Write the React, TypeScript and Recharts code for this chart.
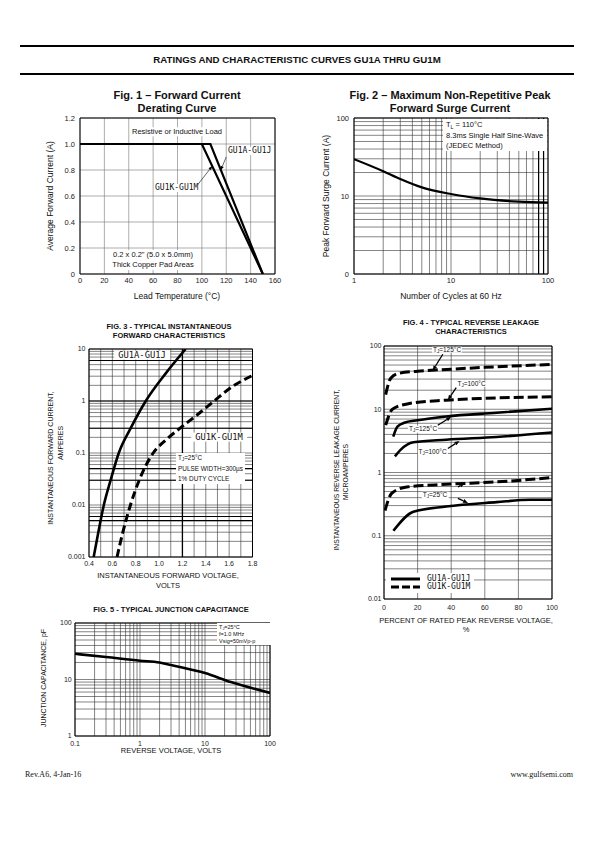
import React from 'react';
import {
  LineChart, Line, XAxis, YAxis, CartesianGrid, ReferenceLine, ReferenceArea, Legend,
} from 'recharts';

const SANS = '"Liberation Sans", Arial, sans-serif';
const MONO = '"DejaVu Sans Mono", "Liberation Mono", monospace';
const SERIF = '"Liberation Serif", "Times New Roman", serif';

// Fig. 1 - forward current derating
const fig1Temp = [0, 20, 40, 60, 80, 100, 120, 140, 160];
const fig1TempLabels = ['0', '20', '40', '60', '80', '100', '120', '140', '160'];
const fig1Amps = [0, 0.2, 0.4, 0.6, 0.8, 1.0, 1.2];
const fig1AmpLabels = ['0', '0.2', '0.4', '0.6', '0.8', '1.0', '1.2'];
const fig1TempAJ = [0, 107, 150];
const fig1CurrAJ = [1.0, 1.0, 0];
const fig1TempKM = [0, 100, 150];
const fig1CurrKM = [1.0, 1.0, 0];

// Fig. 2 - peak forward surge current
const fig2Cycles = [1, 2, 3, 5, 10, 20, 50, 100];
const fig2Surge = [29.7, 20.8, 16.5, 12.9, 10.6, 9.3, 8.45, 8.2];
const fig2XTicks = [1, 10, 100];
const fig2XLabels = ['1', '10', '100'];
const fig2YTicks = [1, 10, 100];
const fig2YLabels = ['0', '10', '100'];

// Fig. 3 - forward characteristics
const fig3VoltsAJ = [0.44, 0.48, 0.527, 0.585, 0.655, 0.757, 0.886, 1.057, 1.228];
const fig3AmpsAJ = [0.001, 0.003, 0.01, 0.03, 0.1, 0.3, 1.0, 3.4, 10];
const fig3VoltsKM = [0.64, 0.69, 0.755, 0.83, 0.95, 1.06, 1.18, 1.33, 1.471, 1.629, 1.8];
const fig3AmpsKM = [0.001, 0.003, 0.01, 0.03, 0.1, 0.18, 0.3, 0.55, 1.0, 1.9, 3.1];
const fig3XTicks = [0.4, 0.6, 0.8, 1.0, 1.2, 1.4, 1.6, 1.8];
const fig3XLabels = ['0.4', '0.6', '0.8', '1.0', '1.2', '1.4', '1.6', '1.8'];
const fig3XGrid = [0.4, 0.5, 0.6, 0.7, 0.8, 0.9, 1.0, 1.1, 1.2, 1.3, 1.4, 1.5, 1.6, 1.7, 1.8];
const fig3YTicks = [0.001, 0.01, 0.1, 1, 10];
const fig3YLabels = ['0.001', '0.01', '0.1', '1', '10'];
const fig3HeavyY = [6, 1, 0.3, 0.05, 0.03, 0.006, 0.005];

// Fig. 4 - reverse leakage
const fig4Pct = [0, 20, 40, 60, 80, 100];
const fig4PctLabels = ['0', '20', '40', '60', '80', '100'];
const fig4YTicks = [0.01, 0.1, 1, 10, 100];
const fig4YLabels = ['0.01', '0.1', '1', '10', '100'];
const fig4LegendNames = ['GU1A-GU1J', 'GU1K-GU1M'];
const fig4KM125X = [1, 4, 9, 20, 40, 60, 100];
const fig4KM125Y = [17, 31, 37, 40, 43, 46, 51];
const fig4KM100X = [1, 5, 15, 37, 57, 100];
const fig4KM100Y = [5.6, 10, 12.3, 13.9, 14.8, 15.7];
const fig4KM25X = [0.6, 4.6, 13.5, 37, 67, 100];
const fig4KM25Y = [0.25, 0.47, 0.59, 0.65, 0.71, 0.83];
const fig4AJ125X = [5.5, 8, 12, 20, 37, 67, 100];
const fig4AJ125Y = [3.7, 5.3, 6.1, 6.7, 7.7, 8.8, 10.2];
const fig4AJ100X = [6.5, 10, 17.5, 37, 67, 100];
const fig4AJ100Y = [1.8, 2.3, 3.0, 3.3, 3.65, 4.3];
const fig4AJ25X = [5.6, 17.5, 37, 67, 87, 100];
const fig4AJ25Y = [0.12, 0.24, 0.29, 0.34, 0.37, 0.37];
// arrows: [fromX, fromY, toX, toY]
const fig4Arrows = [
  [35, 74, 29, 41],
  [43, 22, 38, 14],
  [32, 5.6, 40, 7.6],
  [38, 2.4, 45, 3.15],
  [44, 0.59, 48, 0.68],
  [44, 0.39, 50, 0.33],
];
const fig1Leaders = [
  [120, 0.9, 115.5, 0.8],
  [96, 0.68, 108.5, 0.83],
];

// Fig. 5 - junction capacitance
const fig5Volts = [0.1, 0.3, 1, 2, 3, 10, 25, 100];
const fig5Cap = [28.5, 25, 21.5, 20, 18, 13, 9, 5.8];
const fig5XTicks = [0.1, 1, 10, 100];
const fig5XLabels = ['0.1', '1', '10', '100'];
const fig5YTicks = [1, 10, 100];
const fig5YLabels = ['1', '10', '100'];

// plot boxes on the page: left, top, right, bottom
const F1 = [80, 118, 275, 274];
const F2 = [354, 118, 548, 274];
const F3 = [88.5, 349, 252, 557];
const F4 = [384, 346, 552, 599];
const F5 = [75, 622.5, 270, 735.5];

const YW = 34, XH = 24, MT = 6, MR = 12;

const place = (b: number[]) => ({
  style: { position: 'absolute' as const, left: b[0] - YW, top: b[1] - MT },
  width: b[2] - b[0] + YW + MR,
  height: b[3] - b[1] + MT + XH,
  margin: { top: MT, right: MR, bottom: 0, left: 0 },
});

const pts = (xs: number[], ys: number[]) => xs.map((x, i) => ({ x, y: ys[i] }));

const logGrid = (lo: number, hi: number) => {
  const out: number[] = [];
  for (let e = Math.round(Math.log10(lo)); e < Math.round(Math.log10(hi)); e++) {
    for (let m = 1; m < 10; m++) out.push(Number((m * 10 ** e).toPrecision(6)));
  }
  out.push(hi);
  return out;
};

const fmt = (ticks: number[], labels: string[]) => (v: number) => {
  const i = ticks.findIndex((t) => Math.abs(v - t) <= Math.abs(t) * 1e-6 + 1e-12);
  return i >= 0 ? labels[i] : '';
};

const tick75 = { fontSize: 7.5, fill: '#222', fontFamily: SANS };
const tick7 = { fontSize: 7, fill: '#222', fontFamily: SANS };

const arrow = (w: number, head: number) => (p: any) => {
  const { x1, y1, x2, y2 } = p;
  const a = Math.atan2(y2 - y1, x2 - x1);
  const bx = x2 - head * Math.cos(a);
  const by = y2 - head * Math.sin(a);
  const nx = -Math.sin(a) * head * 0.4;
  const ny = Math.cos(a) * head * 0.4;
  return (
    <g>
      <line x1={x1} y1={y1} x2={bx} y2={by} stroke="#000" strokeWidth={w} />
      <polygon points={`${x2},${y2} ${bx + nx},${by + ny} ${bx - nx},${by - ny}`} fill="#000" />
    </g>
  );
};

const Sub = ({ c }: { c: string }) => (
  <span style={{ fontSize: '0.7em', position: 'relative', top: '0.3em' }}>{c}</span>
);

type TxtProps = {
  x: number; y: number; size: number; children: React.ReactNode;
  bold?: boolean; anchor?: 'start' | 'middle' | 'end'; rotate?: boolean;
  font?: string; bg?: boolean; sx?: number; pad?: string;
};

function Txt({ x, y, size, children, bold, anchor = 'middle', rotate, font = SANS, bg, sx = 1, pad }: TxtProps) {
  const tx = anchor === 'middle' ? '-50%' : anchor === 'end' ? '-100%' : '0';
  return (
    <div
      style={{
        position: 'absolute', left: x, top: y, whiteSpace: 'nowrap', fontFamily: font,
        fontSize: size, fontWeight: bold ? 700 : 400, lineHeight: 1, color: '#111',
        background: bg ? '#fff' : undefined, padding: pad,
        transform: `translate(${tx}, -50%)${rotate ? ' rotate(-90deg)' : ''}${sx !== 1 ? ` scaleX(${sx})` : ''}`,
        transformOrigin: anchor === 'start' && !rotate ? 'left center' : 'center',
      }}
    >
      {children}
    </div>
  );
}

function Fig1() {
  const p = place(F1);
  return (
    <div style={p.style}>
      <LineChart width={p.width} height={p.height} margin={p.margin}>
        <CartesianGrid stroke="#777" strokeWidth={0.6} />
        <XAxis type="number" dataKey="x" domain={[0, 160]} ticks={fig1Temp} tickFormatter={fmt(fig1Temp, fig1TempLabels)}
          interval={0} tickLine={false} axisLine={false} tickSize={0} tickMargin={4} height={XH} tick={tick75} allowDataOverflow />
        <YAxis type="number" domain={[0, 1.2]} ticks={fig1Amps} tickFormatter={fmt(fig1Amps, fig1AmpLabels)}
          interval={0} tickLine={false} axisLine={false} tickSize={0} tickMargin={5} width={YW} tick={tick75} allowDataOverflow />
        <ReferenceArea x1={0} x2={160} y1={0} y2={1.2} fill="none" stroke="#000" strokeWidth={1} />
        <Line data={pts(fig1TempKM, fig1CurrKM)} dataKey="y" type="linear" stroke="#000" strokeWidth={2.2} dot={false} isAnimationActive={false} />
        <Line data={pts(fig1TempAJ, fig1CurrAJ)} dataKey="y" type="linear" stroke="#000" strokeWidth={2.2} dot={false} isAnimationActive={false} />
        {fig1Leaders.map((a, i) => (
          <ReferenceLine key={i} segment={[{ x: a[0], y: a[1] }, { x: a[2], y: a[3] }]} shape={arrow(0.6, 4)} />
        ))}
      </LineChart>
    </div>
  );
}

function Fig2() {
  const p = place(F2);
  return (
    <div style={p.style}>
      <LineChart width={p.width} height={p.height} margin={p.margin}>
        <CartesianGrid stroke="#333" strokeWidth={0.6} />
        <XAxis type="number" dataKey="x" scale="log" domain={[1, 100]} ticks={logGrid(1, 100)} tickFormatter={fmt(fig2XTicks, fig2XLabels)}
          interval={0} tickLine={false} axisLine={false} tickSize={0} tickMargin={4} height={XH} tick={tick75} allowDataOverflow />
        <YAxis type="number" scale="log" domain={[1, 100]} ticks={logGrid(1, 100)} tickFormatter={fmt(fig2YTicks, fig2YLabels)}
          interval={0} tickLine={false} axisLine={false} tickSize={0} tickMargin={5} width={YW} tick={tick75} allowDataOverflow />
        <ReferenceLine x={80} stroke="#000" strokeWidth={1.2} />
        <ReferenceLine x={90} stroke="#000" strokeWidth={1.2} />
        <ReferenceArea x1={1} x2={100} y1={1} y2={100} fill="none" stroke="#000" strokeWidth={1} />
        <Line data={pts(fig2Cycles, fig2Surge)} dataKey="y" type="monotone" stroke="#000" strokeWidth={2.2} dot={false} isAnimationActive={false} />
      </LineChart>
    </div>
  );
}

function Fig3() {
  const p = place(F3);
  return (
    <div style={p.style}>
      <LineChart width={p.width} height={p.height} margin={p.margin}>
        <CartesianGrid stroke="#333" strokeWidth={0.6} />
        <XAxis type="number" dataKey="x" domain={[0.4, 1.8]} ticks={fig3XGrid} tickFormatter={fmt(fig3XTicks, fig3XLabels)}
          interval={0} tickLine={false} axisLine={false} tickSize={0} tickMargin={4.5} height={XH} tick={tick7} allowDataOverflow />
        <YAxis type="number" scale="log" domain={[0.001, 10]} ticks={logGrid(0.001, 10)} tickFormatter={fmt(fig3YTicks, fig3YLabels)}
          interval={0} tickLine={false} axisLine={false} tickSize={0} tickMargin={3.5} width={YW} tick={tick7} allowDataOverflow />
        {fig3HeavyY.map((v) => (
          <ReferenceLine key={v} y={v} stroke="#000" strokeWidth={1.1} />
        ))}
        <ReferenceLine x={1.2} stroke="#000" strokeWidth={1.3} />
        <ReferenceArea x1={0.4} x2={1.8} y1={0.001} y2={10} fill="none" stroke="#000" strokeWidth={1} />
        <Line data={pts(fig3VoltsAJ, fig3AmpsAJ)} dataKey="y" type="monotone" stroke="#000" strokeWidth={2.6} dot={false} isAnimationActive={false} />
        <Line data={pts(fig3VoltsKM, fig3AmpsKM)} dataKey="y" type="monotone" stroke="#000" strokeWidth={3} strokeDasharray="8 4" dot={false} isAnimationActive={false} />
      </LineChart>
    </div>
  );
}

const fig4Legend = (props: any) => (
  <div style={{ background: '#fff', padding: '2px 4px 2px 5px' }}>
    {(props.payload || []).filter((e: any) => fig4LegendNames.includes(e.value)).map((e: any) => (
      <div key={e.value} style={{ display: 'flex', alignItems: 'center', height: 8 }}>
        <svg width={29} height={6}>
          <line x1={0} y1={3} x2={29} y2={3} stroke="#000" strokeWidth={3}
            strokeDasharray={e.value === 'GU1K-GU1M' ? '8 3' : undefined} />
        </svg>
        <span style={{ fontFamily: MONO, fontSize: 8, marginLeft: 7, lineHeight: '8px', color: '#111' }}>{e.value}</span>
      </div>
    ))}
  </div>
);

function Fig4() {
  const p = place(F4);
  const solid = { type: 'monotone' as const, stroke: '#000', strokeWidth: 2.6, dot: false, isAnimationActive: false };
  const dashed = { ...solid, strokeWidth: 3, strokeDasharray: '10 4' };
  return (
    <div style={p.style}>
      <LineChart width={p.width} height={p.height} margin={p.margin}>
        <CartesianGrid stroke="#333" strokeWidth={0.6} />
        <XAxis type="number" dataKey="x" domain={[0, 100]} ticks={fig4Pct} tickFormatter={fmt(fig4Pct, fig4PctLabels)}
          interval={0} tickLine={false} axisLine={false} tickSize={0} tickMargin={5.8} height={XH} tick={tick7} allowDataOverflow />
        <YAxis type="number" scale="log" domain={[0.01, 100]} ticks={logGrid(0.01, 100)} tickFormatter={fmt(fig4YTicks, fig4YLabels)}
          interval={0} tickLine={false} axisLine={false} tickSize={0} tickMargin={2.5} width={YW} tick={tick7} allowDataOverflow />
        <ReferenceArea x1={0} x2={100} y1={0.01} y2={100} fill="none" stroke="#000" strokeWidth={1} />
        <Line data={pts(fig4AJ125X, fig4AJ125Y)} dataKey="y" name="GU1A-GU1J" {...solid} />
        <Line data={pts(fig4KM125X, fig4KM125Y)} dataKey="y" name="GU1K-GU1M" {...dashed} />
        <Line data={pts(fig4AJ100X, fig4AJ100Y)} dataKey="y" name="AJ100" legendType="none" {...solid} />
        <Line data={pts(fig4AJ25X, fig4AJ25Y)} dataKey="y" name="AJ25" legendType="none" {...solid} />
        <Line data={pts(fig4KM100X, fig4KM100Y)} dataKey="y" name="KM100" legendType="none" {...dashed} />
        <Line data={pts(fig4KM25X, fig4KM25Y)} dataKey="y" name="KM25" legendType="none" {...dashed} />
        {fig4Arrows.map((a, i) => (
          <ReferenceLine key={i} segment={[{ x: a[0], y: a[1] }, { x: a[2], y: a[3] }]} shape={arrow(1.3, 5)} />
        ))}
        <Legend layout="vertical" align="center" verticalAlign="middle" content={fig4Legend}
          wrapperStyle={{ left: 36, top: 233, width: 'auto', height: 'auto' }} />
      </LineChart>
    </div>
  );
}

function Fig5() {
  const p = place(F5);
  return (
    <div style={p.style}>
      <LineChart width={p.width} height={p.height} margin={p.margin}>
        <CartesianGrid stroke="#333" strokeWidth={0.6} />
        <XAxis type="number" dataKey="x" scale="log" domain={[0.1, 100]} ticks={logGrid(0.1, 100)} tickFormatter={fmt(fig5XTicks, fig5XLabels)}
          interval={0} tickLine={false} axisLine={false} tickSize={0} tickMargin={4.7} height={XH} tick={tick7} allowDataOverflow />
        <YAxis type="number" scale="log" domain={[1, 100]} ticks={logGrid(1, 100)} tickFormatter={fmt(fig5YTicks, fig5YLabels)}
          interval={0} tickLine={false} axisLine={false} tickSize={0} tickMargin={3.3} width={YW} tick={tick7} allowDataOverflow />
        <ReferenceArea x1={0.1} x2={100} y1={1} y2={100} fill="none" stroke="#000" strokeWidth={1} />
        <Line data={pts(fig5Volts, fig5Cap)} dataKey="y" type="monotone" stroke="#000" strokeWidth={2.6} dot={false} isAnimationActive={false} />
      </LineChart>
    </div>
  );
}

export default function App() {
  return (
    <div style={{ position: 'absolute', left: 0, top: 0, width: 595, height: 842, background: '#fff', overflow: 'hidden' }}>
      <div style={{ position: 'absolute', left: 20, top: 45, width: 554, height: 2, background: '#000' }} />
      <div style={{ position: 'absolute', left: 20, top: 72.5, width: 554, height: 2, background: '#000' }} />
      <Txt x={297} y={60} size={9.7} bold>RATINGS AND CHARACTERISTIC CURVES GU1A THRU GU1M</Txt>

      <Fig1 />
      <Fig2 />
      <Fig3 />
      <Fig4 />
      <Fig5 />

      {/* Fig. 1 texts */}
      <Txt x={177} y={95} size={11} bold>Fig. 1 – Forward Current</Txt>
      <Txt x={177} y={108} size={11} bold>Derating Curve</Txt>
      <Txt x={177} y={296} size={8.5}>Lead Temperature (°C)</Txt>
      <Txt x={50} y={196} size={8.5} rotate>Average Forward Current (A)</Txt>
      <Txt x={177} y={131.5} size={7.5} bg pad="1px 2px">Resistive or Inductive Load</Txt>
      <Txt x={228} y={151} size={8} anchor="start" font={MONO} bg>GU1A-GU1J</Txt>
      <Txt x={155} y={188} size={8} anchor="start" font={MONO} bg>GU1K-GU1M</Txt>
      <div style={{ position: 'absolute', left: 153, top: 259.5, transform: 'translate(-50%, -50%)', background: '#fff', fontFamily: SANS, fontSize: 7.5, lineHeight: '10px', textAlign: 'center', whiteSpace: 'nowrap', color: '#111', padding: '0 2px' }}>
        0.2 x 0.2" (5.0 x 5.0mm)<br />Thick Copper Pad Areas
      </div>

      {/* Fig. 2 texts */}
      <Txt x={450} y={95} size={11} bold>Fig. 2 – Maximum Non-Repetitive Peak</Txt>
      <Txt x={450} y={108} size={11} bold>Forward Surge Current</Txt>
      <Txt x={451} y={296} size={8.5}>Number of Cycles at 60 Hz</Txt>
      <Txt x={326} y={196} size={8.5} rotate>Peak Forward Surge Current (A)</Txt>
      <div style={{ position: 'absolute', left: 443, top: 119, width: 104, height: 32, background: '#fff', fontFamily: SANS, fontSize: 7.5, lineHeight: '10.5px', color: '#111', padding: '1px 0 0 3px', boxSizing: 'border-box', whiteSpace: 'nowrap' }}>
        T<Sub c="L" /> = 110°C<br />8.3ms Single Half Sine-Wave<br />(JEDEC Method)
      </div>

      {/* Fig. 3 texts */}
      <Txt x={169} y={327} size={7.5} bold>FIG. 3 - TYPICAL INSTANTANEOUS</Txt>
      <Txt x={169} y={336} size={7.5} bold>FORWARD CHARACTERISTICS</Txt>
      <Txt x={168} y={576} size={7.5}>INSTANTANEOUS FORWARD VOLTAGE,</Txt>
      <Txt x={168} y={586} size={7.5}>VOLTS</Txt>
      <Txt x={50} y={458} size={7} rotate>INSTANTANEOUS FORWARD CURRENT,</Txt>
      <Txt x={59.5} y={443} size={7} rotate>AMPERES</Txt>
      <Txt x={142} y={355} size={8.8} font={MONO} bg pad="0 4px">GU1A-GU1J</Txt>
      <Txt x={219} y={437} size={8.8} font={MONO} bg pad="0 4px">GU1K-GU1M</Txt>
      <div style={{ position: 'absolute', left: 176, top: 453, background: '#fff', fontFamily: SANS, fontSize: 6.4, lineHeight: '10px', color: '#111', padding: '0 2px', whiteSpace: 'nowrap' }}>
        T<Sub c="J" />=25°C<br />PULSE WIDTH=300µs<br />1% DUTY CYCLE
      </div>

      {/* Fig. 4 texts */}
      <Txt x={471} y={322.5} size={7.5} bold>FIG. 4 - TYPICAL REVERSE LEAKAGE</Txt>
      <Txt x={471} y={331.7} size={7.5} bold>CHARACTERISTICS</Txt>
      <Txt x={466} y={621} size={7.5}>PERCENT OF RATED PEAK REVERSE VOLTAGE,</Txt>
      <Txt x={466} y={630} size={7.5}>%</Txt>
      <Txt x={337} y={470} size={6.8} rotate>INSTANTANEOUS REVERSE LEAKAGE CURRENT,</Txt>
      <Txt x={346} y={472} size={6.8} rotate>MICROAMPERES</Txt>
      <Txt x={447} y={349.5} size={6.5} bg pad="0 1px">T<Sub c="J" />=125°C</Txt>
      <Txt x={471.5} y={383.5} size={6.5} bg pad="0 1px">T<Sub c="J" />=100°C</Txt>
      <Txt x={423} y={429} size={6.5} bg pad="0 1px">T<Sub c="J" />=125°C</Txt>
      <Txt x={432.5} y={451.5} size={6.5} bg pad="0 1px">T<Sub c="J" />=100°C</Txt>
      <Txt x={435} y={495} size={6.5} bg pad="0 1px">T<Sub c="J" />=25°C</Txt>

      {/* Fig. 5 texts */}
      <Txt x={171} y={610} size={7.5} bold>FIG. 5 - TYPICAL JUNCTION CAPACITANCE</Txt>
      <Txt x={171} y={751} size={7.5}>REVERSE VOLTAGE, VOLTS</Txt>
      <Txt x={43} y={678} size={7} rotate>JUNCTION CAPACITANCE, pF</Txt>
      <div style={{ position: 'absolute', left: 217, top: 623, width: 52, background: '#fff', fontFamily: SANS, fontSize: 5.5, lineHeight: '6.3px', color: '#111', padding: '1px 0 1px 2px', whiteSpace: 'nowrap' }}>
        T<Sub c="J" />=25°C<br />f=1.0 MHz<br />Vsig=50mVp-p
      </div>

      {/* footer */}
      <Txt x={25} y={775} size={8} anchor="start" font={SERIF}>Rev.A6, 4-Jan-16</Txt>
      <Txt x={573} y={775} size={8} anchor="end" font={SERIF}>www.gulfsemi.com</Txt>
    </div>
  );
}
